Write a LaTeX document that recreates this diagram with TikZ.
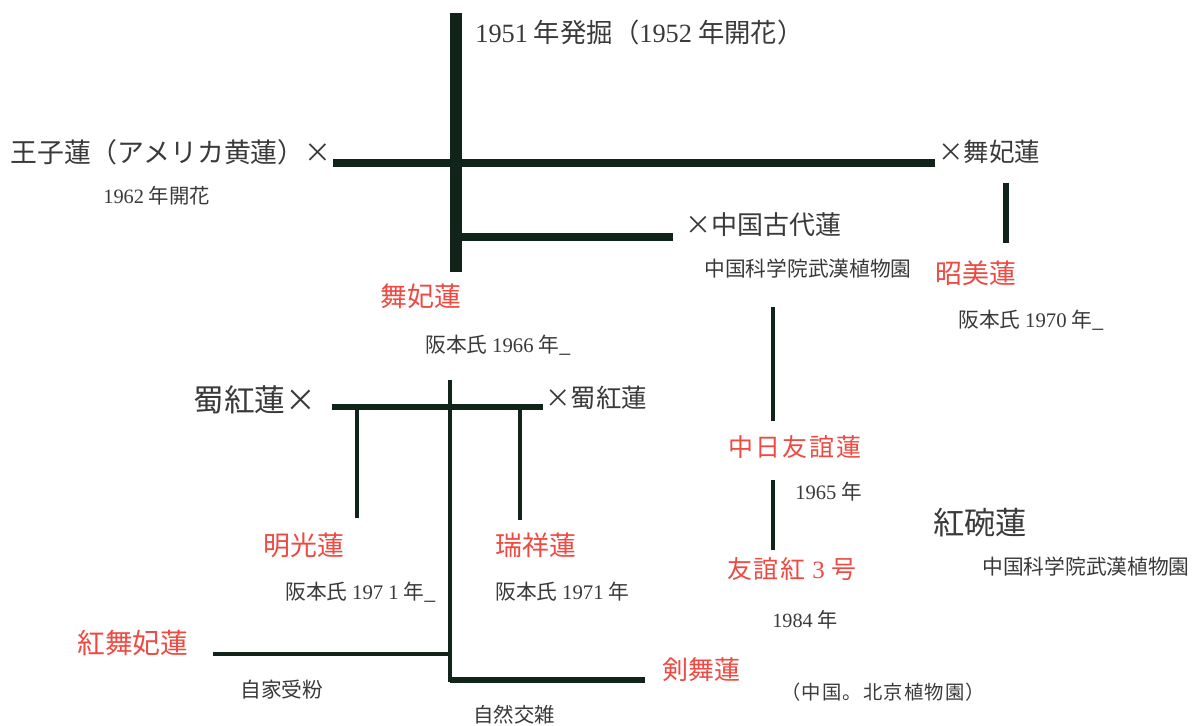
\documentclass[tikz,border=0pt]{standalone}
\usepackage{fontspec}
\setmainfont{Noto Sans CJK JP}
\newfontfamily\ls{Liberation Serif}
\definecolor{ink}{HTML}{3A3A3A}
\definecolor{lred}{HTML}{EE4A42}
\definecolor{bar}{HTML}{10241A}
\begin{document}
\begin{tikzpicture}[x=0.02cm,y=-0.02cm,
  lbl/.style={anchor=west,inner sep=0pt,text=ink},
  rlbl/.style={anchor=west,inner sep=0pt,text=lred},
  fs/.style={font=\fontsize{#1}{#1}\selectfont},
  barline/.style={draw=bar,line width=#1}]
\useasboundingbox[fill=white] (0,0) rectangle (1202,725);
% coordinates of the tree lines
\coordinate (v1t) at (456,13);  \coordinate (v1b) at (456,272);
\coordinate (h1l) at (333,163); \coordinate (h1r) at (935,163);
\coordinate (h2l) at (456,237); \coordinate (h2r) at (673,237);
\coordinate (v2t) at (1006,183); \coordinate (v2b) at (1006,243);
\coordinate (v3t) at (773,307); \coordinate (v3b) at (773,421);
\coordinate (v4t) at (773,480); \coordinate (v4b) at (773,550);
\coordinate (h3l) at (332,407); \coordinate (h3r) at (543,407);
\coordinate (v5t) at (450,380); \coordinate (v5b) at (450,682);
\coordinate (v6t) at (357,407); \coordinate (v6b) at (357,518);
\coordinate (v7t) at (520,407); \coordinate (v7b) at (520,520);
\coordinate (h4l) at (213,654); \coordinate (h4r) at (450,654);
\coordinate (h5l) at (450,680); \coordinate (h5r) at (645,680);
\draw[barline=6.6pt] (v1t) -- (v1b);
\draw[barline=5pt] (h1l) -- (h1r);
\draw[barline=5pt] (h2l) -- (h2r);
\draw[barline=3.2pt] (v2t) -- (v2b);
\draw[barline=1.9pt] (v3t) -- (v3b);
\draw[barline=1.9pt] (v4t) -- (v4b);
\draw[barline=3.2pt] (h3l) -- (h3r);
\draw[barline=1.9pt] (v5t) -- (v5b);
\draw[barline=1.9pt] (v6t) -- (v6b);
\draw[barline=1.9pt] (v7t) -- (v7b);
\draw[barline=2.6pt] (h4l) -- (h4r);
\draw[barline=3pt] (h5l) -- (h5r);
% labels
\node[lbl,fs=15] (t1951) at (475,32) {{\ls 1951} 年発掘（{\ls 1952} 年開花）};
\node[lbl,fs=15.3] (ouji) at (10,152) {王子蓮（アメリカ黄蓮）×};
\node[lbl,fs=11.6] (t1962) at (103,196) {{\ls 1962} 年開花};
\node[lbl,fs=14.5] (xmaihi) at (938,152) {×舞妃蓮};
\node[lbl,fs=14.8] (xkodai) at (685,225) {×中国古代蓮};
\node[lbl,fs=11.8] (wuhan1) at (704,269) {中国科学院武漢植物園};
\node[rlbl,fs=15.3] (shobi) at (935,273) {昭美蓮};
\node[lbl,fs=11.8] (t1970) at (958,320) {阪本氏 {\ls 1970} 年\_};
\node[rlbl,fs=15.3] (maihi) at (380,296) {舞妃蓮};
\node[lbl,fs=11.8] (t1966) at (425,345) {阪本氏 {\ls 1966} 年\_};
\node[lbl,fs=17.5] (shoku1) at (193,400) {蜀紅蓮×};
\node[lbl,fs=14.5] (shoku2) at (545,398) {×蜀紅蓮};
\node[rlbl,fs=14.2] (nicchu) at (728,447) {\addfontfeatures{LetterSpace=8}中日友誼蓮};
\node[lbl,fs=11.7] (t1965) at (795,492) {{\ls 1965} 年};
\node[lbl,fs=17.8] (kowan) at (933,523) {紅碗蓮};
\node[lbl,fs=11.8] (wuhan2) at (982,567) {中国科学院武漢植物園};
\node[rlbl,fs=15.3] (meiko) at (263,545) {明光蓮};
\node[rlbl,fs=15.3] (zuisho) at (495,545) {瑞祥蓮};
\node[rlbl,fs=14.2] (yugi3) at (727,569) {\addfontfeatures{LetterSpace=6}友誼紅 {\ls 3} 号};
\node[lbl,fs=11.8] (t1971a) at (285,592) {阪本氏 {\ls 197 1} 年\_};
\node[lbl,fs=11.8] (t1971b) at (495,592) {阪本氏 {\ls 1971} 年};
\node[lbl,fs=11.5] (t1984) at (772,620) {{\ls 1984} 年};
\node[rlbl,fs=15.8] (benimai) at (77,643) {紅舞妃蓮};
\node[rlbl,fs=14.8] (kenbu) at (662,670) {剣舞蓮};
\node[lbl,fs=11.8] (jika) at (240,690) {自家受粉};
\node[lbl,fs=11] (pekin) at (781,692) {\addfontfeatures{LetterSpace=6}（中国。北京植物園）};
\node[lbl,fs=11.6] (shizen) at (473,715) {自然交雑};
\end{tikzpicture}
\end{document}
